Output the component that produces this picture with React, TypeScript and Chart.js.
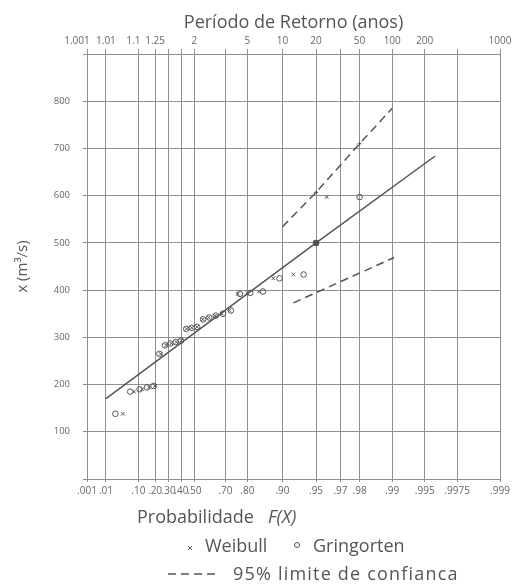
import React, { useEffect, useRef } from 'react';
import { Chart, registerables } from 'chart.js';

Chart.register(...registerables);

// ---- Data ----
const probTicks = [0.001, 0.01, 0.1, 0.2, 0.3, 0.4, 0.5, 0.7, 0.8, 0.9, 0.95, 0.97, 0.98, 0.99, 0.995, 0.9975, 0.999];
const probLabels = ['.001', '.01', '.10', '.20', '.30', '.40', '.50', '.70', '.80', '.90', '.95', '.97', '.98', '.99', '.995', '.9975', '.999'];
const periodLabels = ['1.001', '1.01', '1.1', '1.25', '', '', '2', '', '5', '10', '20', '', '50', '100', '200', '', '1000'];
const yTickValues = [0, 100, 200, 300, 400, 500, 600, 700, 800, 900];

const flows = [138, 185, 190, 194, 197, 265, 283, 287, 290, 293, 318, 320, 322, 338, 342, 346, 350, 357, 392, 394, 397, 425, 433, 597];
const weibullF = [0.04, 0.08, 0.12, 0.16, 0.2, 0.24, 0.28, 0.32, 0.36, 0.4, 0.44, 0.48, 0.52, 0.56, 0.6, 0.64, 0.68, 0.72, 0.76, 0.8, 0.84, 0.88, 0.92, 0.96];
const gringortenF = [0.0232, 0.0647, 0.1061, 0.1476, 0.1891, 0.2305, 0.272, 0.3134, 0.3549, 0.3964, 0.4378, 0.4793, 0.5207, 0.5622, 0.6036, 0.6451, 0.6866, 0.728, 0.7695, 0.8109, 0.8524, 0.8939, 0.9353, 0.98];

const fitF = [0.01, 0.95, 0.996];
const fitQ = [170, 500, 684];
const fitMark = [0, 2.5, 0];
const upperF = [0.9, 0.95, 0.98, 0.99];
const upperQ = [534, 607, 710, 785];
const upperMark = [0, 2, 2, 0];
const lowerF = [0.92, 0.9904];
const lowerQ = [373, 469];

const gumbel = (F: number) => -Math.log(-Math.log(F));

const INK = '#555';
const GRID = '#909090';
const FONT = "'Open Sans', 'Noto Sans', sans-serif";

// small label shifts to mimic the hand-placed labels of the original
const topShift: Record<string, string> = { '1.001': '\u2003\u2003', '1.1': '\u2003' };

const bottomText = {
  id: 'bottomText',
  afterDraw(chart: any) {
    const ctx = chart.ctx as CanvasRenderingContext2D;
    const ds = chart.data.datasets;
    ctx.save();
    ctx.fillStyle = INK;
    ctx.strokeStyle = INK;
    ctx.textBaseline = 'middle';
    ctx.textAlign = 'left';
    // axis title
    ctx.font = `18px ${FONT}`;
    ctx.fillText('Probabilidade', 137, 518);
    ctx.font = `italic 18px ${FONT}`;
    ctx.fillText('F(X)', 268, 518);
    // legend row 1
    ctx.font = `18px ${FONT}`;
    ctx.lineWidth = 1;
    ctx.beginPath();
    ctx.moveTo(188, 546); ctx.lineTo(192, 550);
    ctx.moveTo(192, 546); ctx.lineTo(188, 550);
    ctx.stroke();
    ctx.fillText(ds[0].label, 205, 547);
    ctx.beginPath();
    ctx.arc(297, 545, 2.5, 0, Math.PI * 2);
    ctx.stroke();
    ctx.fillText(ds[1].label, 313, 547);
    // legend row 2
    ctx.lineWidth = 1.3;
    ctx.setLineDash([8, 5]);
    ctx.beginPath();
    ctx.moveTo(168, 574); ctx.lineTo(215, 574);
    ctx.stroke();
    ctx.setLineDash([]);
    (ctx as any).letterSpacing = '1.2px';
    ctx.fillText(ds[3].label, 233, 575);
    (ctx as any).letterSpacing = '0px';
    ctx.restore();
  },
};

export default function App() {
  const ref = useRef<HTMLCanvasElement>(null);

  useEffect(() => {
    if (!ref.current) return;
    const xMin = gumbel(probTicks[0]);
    const xMax = gumbel(probTicks[probTicks.length - 1]);
    const setTicks = (scale: any) => {
      scale.ticks = probTicks.map((p) => ({ value: gumbel(p) }));
    };
    const chart = new Chart(ref.current, {
      type: 'scatter',
      data: {
        datasets: [
          {
            label: 'Weibull',
            data: flows.map((q, i) => ({ x: gumbel(weibullF[i]), y: q })),
            pointStyle: 'crossRot',
            pointRadius: 2.5,
            borderColor: INK,
            borderWidth: 1,
            showLine: false,
          },
          {
            label: 'Gringorten',
            data: flows.map((q, i) => ({ x: gumbel(gringortenF[i]), y: q })),
            pointStyle: 'circle',
            pointRadius: 2.8,
            borderColor: INK,
            backgroundColor: 'rgba(255,255,255,0)',
            borderWidth: 1,
            showLine: false,
          },
          {
            type: 'line',
            label: 'Ajuste',
            data: fitF.map((f, i) => ({ x: gumbel(f), y: fitQ[i] })),
            borderColor: INK,
            backgroundColor: INK,
            borderWidth: 1.5,
            pointRadius: fitMark,
            pointStyle: 'circle',
            showLine: true,
            fill: false,
          },
          {
            type: 'line',
            label: '95% limite de confianca',
            data: upperF.map((f, i) => ({ x: gumbel(f), y: upperQ[i] })),
            borderColor: INK,
            backgroundColor: INK,
            borderWidth: 1.5,
            borderDash: [8, 5],
            pointRadius: upperMark,
            pointStyle: 'cross',
            pointBorderWidth: 1,
            showLine: true,
            fill: false,
          },
          {
            type: 'line',
            label: '95% limite inferior',
            data: lowerF.map((f, i) => ({ x: gumbel(f), y: lowerQ[i] })),
            borderColor: INK,
            borderWidth: 1.5,
            borderDash: [8, 5],
            pointRadius: 0,
            showLine: true,
            fill: false,
          },
        ],
      } as any,
      options: {
        animation: false,
        responsive: false,
        devicePixelRatio: 1,
        layout: { padding: { left: 0, right: 14, top: 0, bottom: 0 } },
        plugins: { legend: { display: false }, tooltip: { enabled: false } },
        scales: {
          x: {
            type: 'linear',
            position: 'bottom',
            min: xMin,
            max: xMax,
            afterBuildTicks: setTicks,
            afterFit: (s: any) => { s.height = 105; },
            grid: { color: GRID, lineWidth: 1, tickLength: 3 },
            border: { display: true, color: GRID, width: 1 },
            ticks: {
              autoSkip: false,
              maxRotation: 0,
              minRotation: 0,
              padding: 3,
              color: '#666',
              font: { family: FONT, size: 10 },
              callback: (_v: any, i: number) => probLabels[i],
            },
          },
          x2: {
            type: 'linear',
            position: 'top',
            min: xMin,
            max: xMax,
            afterBuildTicks: setTicks,
            afterFit: (s: any) => { s.height = 54; },
            grid: { drawOnChartArea: false, color: GRID, lineWidth: 1, tickLength: 5 },
            border: { display: true, color: GRID, width: 1 },
            ticks: {
              autoSkip: false,
              maxRotation: 0,
              minRotation: 0,
              padding: 2,
              color: '#666',
              font: { family: FONT, size: 10 },
              callback: (_v: any, i: number) => periodLabels[i] + (topShift[periodLabels[i]] || ''),
            },
            title: {
              display: true,
              text: 'Período de Retorno (anos)',
              color: INK,
              font: { family: FONT, size: 18 },
              padding: { top: 12, bottom: 0 },
            },
          },
          y: {
            type: 'linear',
            min: yTickValues[0],
            max: yTickValues[yTickValues.length - 1],
            afterBuildTicks: (s: any) => { s.ticks = yTickValues.map((v) => ({ value: v })); },
            afterFit: (s: any) => { s.width = 87; },
            grid: { color: GRID, lineWidth: 1, tickLength: 4 },
            border: { display: true, color: GRID, width: 1 },
            ticks: {
              padding: 13,
              color: '#666',
              font: { family: FONT, size: 9.5 },
              callback: (v: any) => (v === 0 || v === 900 ? '' : String(v)),
            },
            title: {
              display: true,
              text: 'x (m³/s)',
              color: INK,
              font: { family: FONT, size: 15 },
              padding: { top: 14, bottom: 0 },
            },
          },
        },
      } as any,
      plugins: [bottomText],
    });
    return () => chart.destroy();
  }, []);

  return (
    <div style={{ position: 'absolute', left: 0, top: 0, width: 514, height: 584, background: '#fff' }}>
      <canvas ref={ref} width={514} height={584} style={{ display: 'block' }} />
    </div>
  );
}
